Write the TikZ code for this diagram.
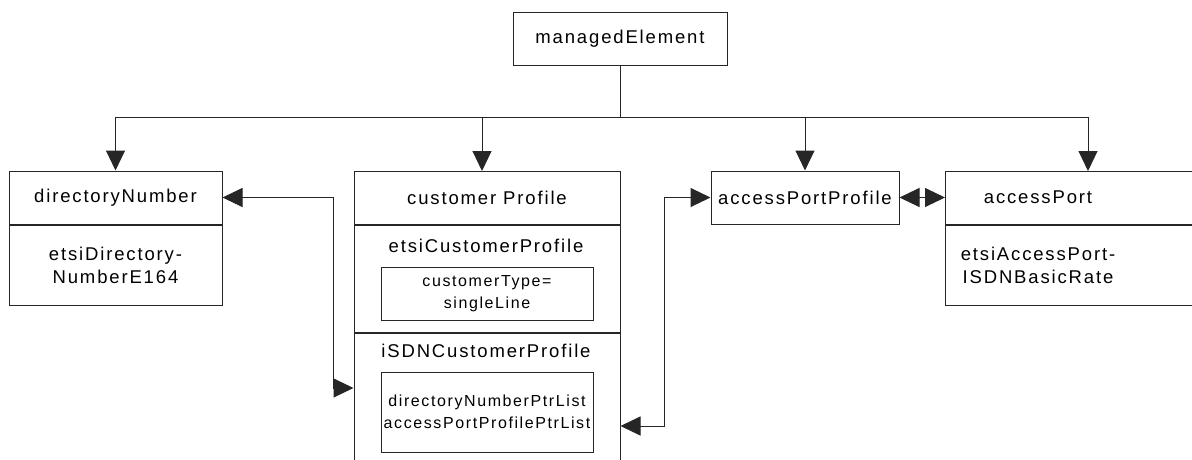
\documentclass[tikz,border=0pt]{standalone}
\usepackage{fontspec}
\setmainfont{Liberation Sans}
\usetikzlibrary{arrows.meta}

% spaced sans text used in the class boxes
\newcommand{\bigtxt}{\fontsize{18.5}{23}\selectfont\addfontfeature{LetterSpace=10}}
\newcommand{\smalltxt}{\fontsize{16}{22}\selectfont\addfontfeature{LetterSpace=10}}

\tikzset{
  ln/.style={draw=black!85, line width=1pt},
  box/.style={ln, rectangle, inner sep=0pt, align=center, font=\bigtxt},
  subbox/.style={ln, rectangle, inner sep=0pt, align=center, font=\smalltxt},
  lbl/.style={inner sep=0pt, align=center, font=\bigtxt},
  conn/.style={ln},
  tip/.style={ln, -{Triangle[length=20pt, width=19pt]}},
  tips/.style={ln, {Triangle[length=20pt, width=19pt]}-{Triangle[length=20pt, width=19pt]}},
}

\begin{document}
\begin{tikzpicture}[x=1pt, y=-1pt]
\useasboundingbox (0,0) rectangle (1192,459);
\clip (0,0) rectangle (1192,459);

% root
\node[box, minimum width=214, minimum height=53] (me) at (620,38.5) {managedElement};

% directoryNumber
\node[box, minimum width=213, minimum height=53] (dn) at (115.5,197.5) {directoryNumber};
\node[box, minimum width=213, minimum height=80, anchor=north] (dnattr) at (dn.south)
  {etsiDirectory-\\NumberE164};

% customer profile with its two packages
\node[box, minimum width=266, minimum height=53] (cp) at (487,197.5) {customer Profile};
\node[box, minimum width=266, minimum height=107, anchor=north] (cpetsi) at (cp.south) {};
\node[lbl] (cpetsititle) at (486,246) {etsiCustomerProfile};
\node[subbox, minimum width=212, minimum height=53] (cptype) at (487,293.5)
  {customerType=\\singleLine};
\node[box, minimum width=266, minimum height=160, anchor=north] (cpisdn) at (cpetsi.south) {};
\node[lbl] (cpisdntitle) at (486,351) {iSDNCustomerProfile};
\node[subbox, minimum width=212, minimum height=80] (cpptr) at (487,412)
  {directoryNumberPtrList\\accessPortProfilePtrList};

% access port profile
\node[box, minimum width=188, minimum height=53] (app) at (805,197.5) {accessPortProfile};

% access port
\node[box, minimum width=270, minimum height=53, anchor=north west] (ap) at (945,171) {};
\node[lbl] (aptitle) at (1038,197.5) {accessPort};
\node[box, minimum width=270, minimum height=80, anchor=north] (apattr) at (ap.south) {};
\node[lbl] (apattrtext) at (1038,265.5) {etsiAccessPort-\\ISDNBasicRate};

% containment tree
\coordinate (bus) at (620,117);
\coordinate (cpin) at (482,171);
\coordinate (apin) at (1088,171);
\draw[conn] (me.south) -- (bus);
\draw[conn] (bus -| dn.north) -- (bus -| apin);
\draw[tip] (bus -| dn.north) -- (dn.north);
\draw[tip] (bus -| cpin) -- (cpin);
\draw[tip] (bus -| app.north) -- (app.north);
\draw[tip] (bus -| apin) -- (apin);

% pointer relationships
\coordinate (dnlink) at (333,388);
\coordinate (applink) at (664,426);
\draw[tips] (dn.east) -| (dnlink) -- (dnlink -| cpisdn.west);
\draw[tips] (applink -| cpisdn.east) -- (applink) |- (app.west);
\draw[tips] (app.east) -- (app.east -| ap.west);
\end{tikzpicture}
\end{document}
